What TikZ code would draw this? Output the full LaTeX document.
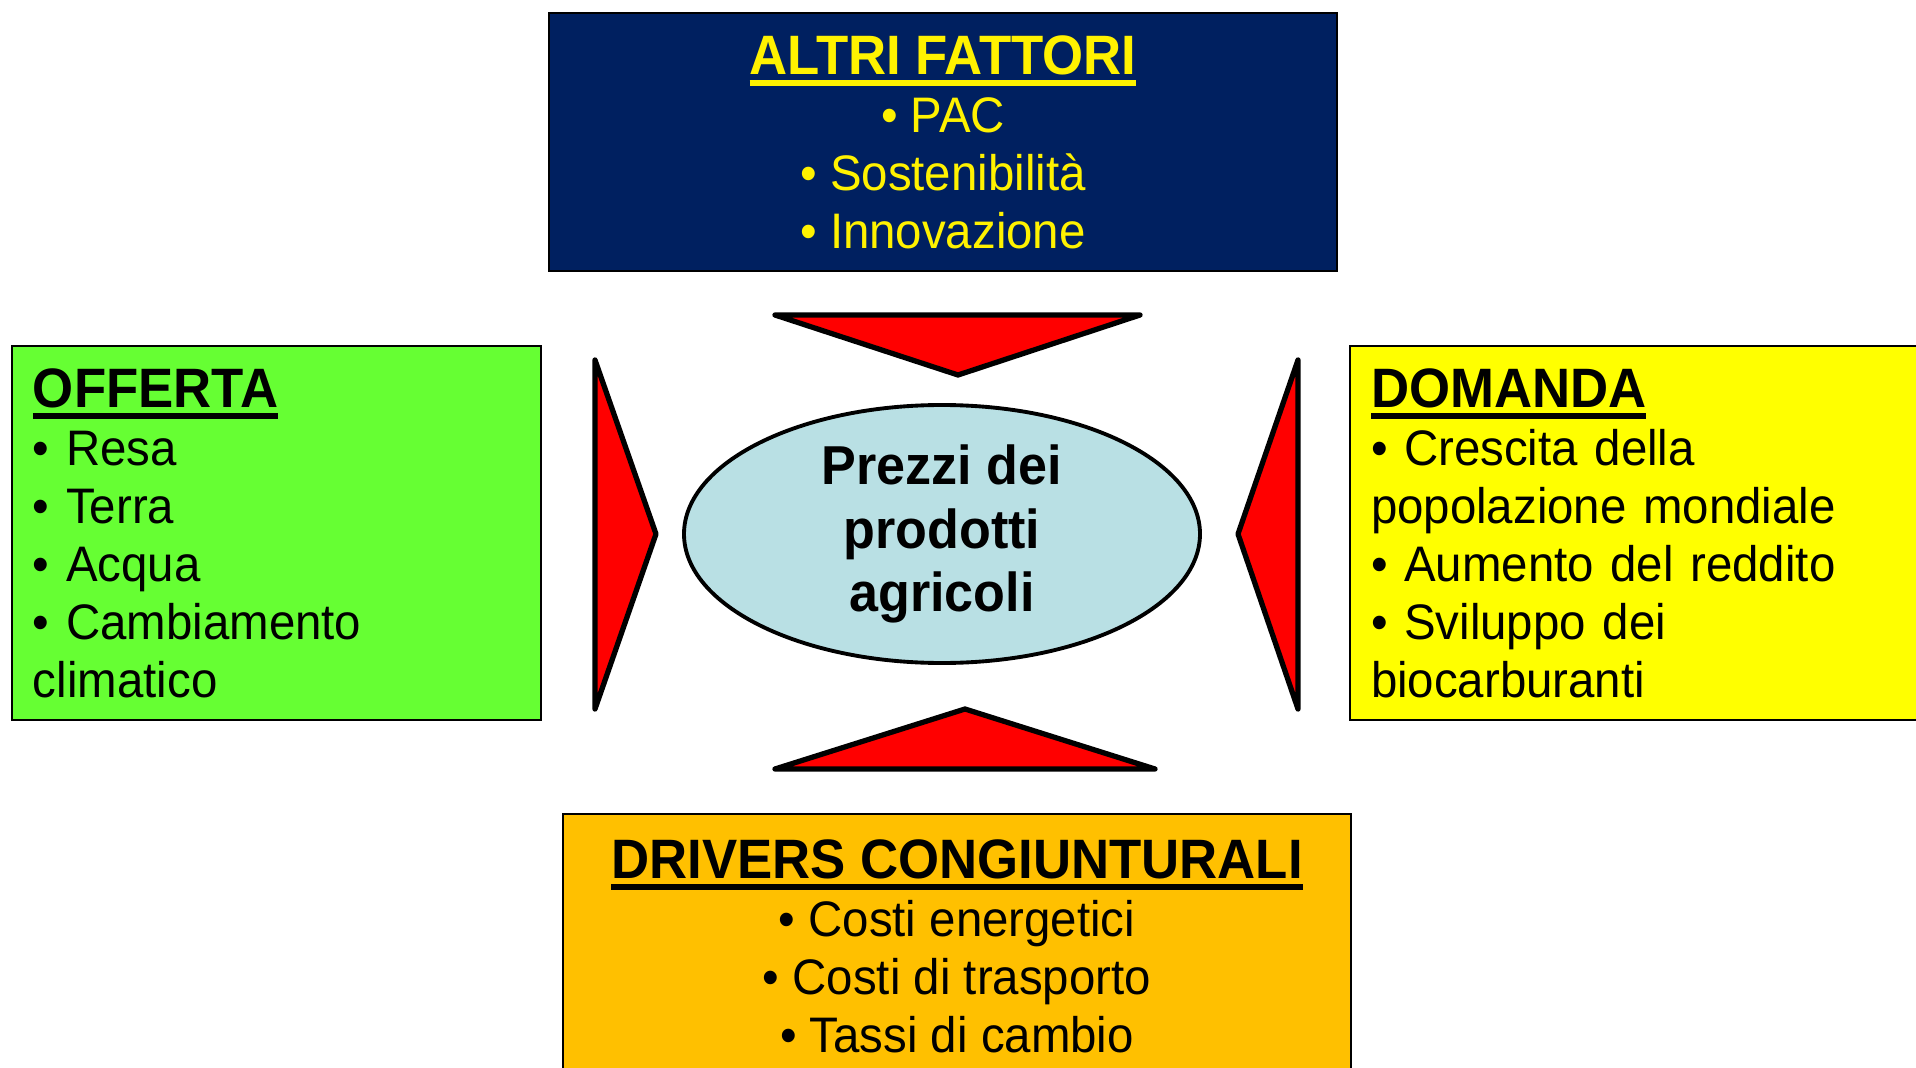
\documentclass[tikz,border=0pt]{standalone}
\usepackage{fontspec}
\setmainfont{Liberation Sans}[FakeStretch=0.95]
\usepackage{xcolor}
\usetikzlibrary{shapes.geometric}

\definecolor{altrinavy}{RGB}{0,32,96}
\definecolor{offertagreen}{RGB}{102,255,51}
\definecolor{domandayellow}{RGB}{255,255,0}
\definecolor{driversorange}{RGB}{255,192,0}
\definecolor{prezziblue}{RGB}{185,224,228}

% underlined heading with a thick rule
\newcommand{\headtext}[1]{\setbox0\hbox{#1}\rlap{\rule[-3.4pt]{\wd0}{1.6pt}}\box0}
\newcommand{\headfont}{\bfseries\fontsize{15.8}{16.5}\selectfont}

\begin{document}
\begin{tikzpicture}[
  box/.style={draw, line width=0.6pt, rectangle, inner xsep=0.21cm,
    font=\fontsize{14.2}{16.5}\selectfont},
  redwedge/.style={draw, fill=red, line width=1.5pt, line join=round, line cap=round}
]

\useasboundingbox (0,0) rectangle (19.16,10.67);
\clip (0,0) rectangle (19.16,10.67);

% the four boxes
\node[box, fill=altrinavy, text=yellow, minimum width=7.88cm, minimum height=2.58cm,
  align=center] (altri) at (9.43,9.25)
  {\headtext{\headfont ALTRI FATTORI}\\ • PAC\\ • Sostenibilità\\ • Innovazione};

\node[box, fill=offertagreen, minimum width=5.29cm, minimum height=3.74cm,
  text width=4.87cm, align=left] (offerta) at (2.765,5.34)
  {\headtext{\headfont OFFERTA}\\ • Resa\\ • Terra\\ • Acqua\\ • Cambiamento\\ climatico};

\node[box, fill=domandayellow, minimum width=5.80cm, minimum height=3.74cm,
  text width=5.38cm, align=left] (domanda) at (16.40,5.34)
  {\headtext{\headfont DOMANDA}\\ • Crescita della\\ popolazione mondiale\\
   • Aumento del reddito\\ • Sviluppo dei\\ biocarburanti};

\node[box, fill=driversorange, minimum width=7.88cm, minimum height=2.64cm,
  align=center] (drivers) at (9.57,1.21)
  {\headtext{\headfont DRIVERS CONGIUNTURALI}\\ • Costi energetici\\
   • Costi di trasporto\\ • Tassi di cambio};

% centre
\node[ellipse, draw, line width=1.1pt, fill=prezziblue, inner sep=0pt,
  minimum width=5.16cm, minimum height=2.58cm, align=center,
  font=\bfseries\fontsize{15.6}{18.1}\selectfont] (prezzi) at (9.42,5.33)
  {Prezzi dei\\ prodotti\\ agricoli};

% wedges pointing to the centre
\coordinate (ta) at (7.75,7.52);
\coordinate (tb) at (11.40,7.52);
\coordinate (tc) at (9.58,6.92);
\coordinate (ba) at (7.75,2.98);
\coordinate (bb) at (11.55,2.98);
\coordinate (bc) at (9.65,3.58);
\coordinate (la) at (5.95,7.07);
\coordinate (lb) at (5.95,3.58);
\coordinate (lc) at (6.56,5.33);
\coordinate (ra) at (12.98,7.07);
\coordinate (rb) at (12.98,3.58);
\coordinate (rc) at (12.38,5.33);

\path[redwedge] (ta)--(tb)--(tc)--cycle;
\path[redwedge] (ba)--(bb)--(bc)--cycle;
\path[redwedge] (la)--(lb)--(lc)--cycle;
\path[redwedge] (ra)--(rb)--(rc)--cycle;

\end{tikzpicture}
\end{document}
